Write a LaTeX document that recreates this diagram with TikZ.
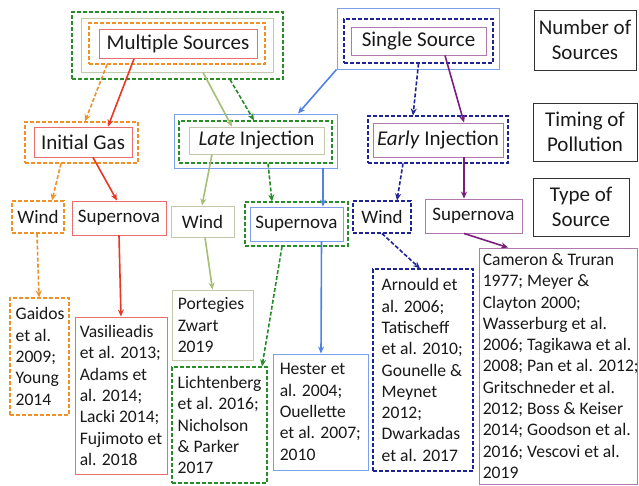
\documentclass[tikz,border=0pt]{standalone}
\usepackage{fontspec}
\setmainfont{Carlito}
\usetikzlibrary{arrows.meta}
\definecolor{cgreen}{RGB}{40,140,40}
\definecolor{ckhaki}{RGB}{195,200,170}
\definecolor{ckhakiA}{RGB}{165,190,120}
\definecolor{corange}{RGB}{240,145,40}
\definecolor{cred}{RGB}{232,55,35}
\definecolor{credbox}{RGB}{235,110,110}
\definecolor{cblue}{RGB}{80,130,230}
\definecolor{cbluebox}{RGB}{125,160,235}
\definecolor{cdblue}{RGB}{30,35,150}
\definecolor{cpurple}{RGB}{120,30,125}
\definecolor{cpurplebox}{RGB}{175,120,175}
\definecolor{ctext}{RGB}{25,25,25}
\tikzset{
  box/.style={draw, rectangle, inner sep=0pt, line width=0.9pt, text=ctext},
  dbox/.style={box, line width=1.1pt, dash pattern=on 4pt off 2pt},
  hfont/.style={font=\fontsize{21}{25}\selectfont},
  tfont/.style={font=\fontsize{19}{23}\selectfont},
  cfont/.style={font=\fontsize{17.6}{21.3}\selectfont, align=left, inner sep=0pt, text=ctext},
  arr/.style={-{Stealth[length=7pt,width=6pt]}, line width=1.6pt},
  darr/.style={arr, dash pattern=on 4pt off 2pt},
}
\begin{document}
\begin{tikzpicture}[x=1pt,y=-1pt]
\useasboundingbox (0,0) rectangle (639,485);
% ---- Multiple Sources
\node[dbox, draw=cgreen, minimum width=211pt, minimum height=67pt] (msG) at (177.5,45.5) {};
\node[box, draw=ckhaki, minimum width=192pt, minimum height=54pt] (msK) at (177,45) {};
\node[dbox, draw=corange, minimum width=176pt, minimum height=41pt] (msO) at (177,43.5) {};
\node[box, draw=credbox, minimum width=158pt, minimum height=29pt, hfont] (msR) at (178,44) {Multiple Sources};
% ---- Single Source
\node[box, draw=cbluebox, minimum width=162pt, minimum height=61pt] (ssB) at (418,38.5) {};
\node[dbox, draw=cdblue, minimum width=149pt, minimum height=44pt] (ssD) at (418.5,41) {};
\node[box, draw=cpurplebox, minimum width=135pt, minimum height=28pt, hfont] (ssP) at (418.5,41) {Single Source};
% ---- Right labels
\node[box, draw=black!80, line width=0.7pt, minimum width=102pt, minimum height=60pt, hfont, align=center] (lNum) at (585,40) {Number of\\Sources};
\node[box, draw=black!80, line width=0.7pt, minimum width=104pt, minimum height=58pt, hfont, align=center] (lTim) at (585,132) {Timing of\\Pollution};
\node[box, draw=black!80, line width=0.7pt, minimum width=96pt, minimum height=58pt, hfont, align=center] (lTyp) at (581,207) {Type of\\Source};
% ---- Initial Gas
\node[dbox, draw=corange, minimum width=113pt, minimum height=41pt] (igO) at (81.5,142.5) {};
\node[box, draw=credbox, minimum width=98pt, minimum height=30pt, hfont] (igR) at (83,142) {Initial Gas};
% ---- Late Injection
\node[box, draw=cbluebox, minimum width=163pt, minimum height=54pt] (liB) at (255.5,141) {};
\node[dbox, draw=cgreen, minimum width=153pt, minimum height=42pt] (liG) at (255.5,142) {};
\node[box, draw=ckhaki, minimum width=135pt, minimum height=27pt, hfont] (liK) at (256.5,140.5) {\textit{Late} Injection};
% ---- Early Injection
\node[dbox, draw=cdblue, minimum width=140pt, minimum height=47pt] (eiD) at (438,139.5) {};
\node[box, draw=cpurplebox, minimum width=130pt, minimum height=34pt, hfont] (eiP) at (438,140) {\textit{Early} Injection};
% ---- Type level
\node[dbox, draw=corange, minimum width=52pt, minimum height=32pt, tfont] (w1) at (38,217) {Wind};
\node[box, draw=credbox, minimum width=94pt, minimum height=34pt, tfont] (s1) at (119,218) {Supernova};
\node[box, draw=ckhaki, minimum width=63pt, minimum height=31pt, tfont] (w2) at (202.5,221.5) {Wind};
\node[dbox, draw=cgreen, minimum width=103pt, minimum height=44pt] (s2G) at (296.5,224) {};
\node[box, draw=cbluebox, minimum width=93pt, minimum height=34pt, tfont] (s2B) at (296.5,224) {Supernova};
\node[dbox, draw=cdblue, minimum width=58pt, minimum height=32pt, tfont] (w3) at (382,217) {Wind};
\node[box, draw=cpurplebox, minimum width=97pt, minimum height=34pt, tfont] (s3) at (473.5,216) {Supernova};
% ---- Citation boxes
\node[dbox, draw=corange, minimum width=59pt, minimum height=117pt] (c1) at (39.5,356.5) {};
\node[box, draw=credbox, minimum width=92pt, minimum height=157pt] (c2) at (121,395.5) {};
\node[box, draw=ckhaki, minimum width=81pt, minimum height=70pt] (c3) at (212.5,325) {};
\node[dbox, draw=cgreen, minimum width=95pt, minimum height=116pt] (c4) at (219.5,425) {};
\node[box, draw=cbluebox, minimum width=95pt, minimum height=116pt] (c5) at (320.5,412) {};
\node[dbox, draw=cdblue, minimum width=100pt, minimum height=202pt] (c6) at (423,370) {};
\node[box, draw=cpurplebox, minimum width=158pt, minimum height=236pt] (c7) at (558,366) {};
\node[cfont, anchor=west] (t1) at ([xshift=6pt]c1.west) {Gaidos\\et al.\\2009;\\Young\\2014};
\node[cfont, anchor=west] (t2) at ([xshift=5pt]c2.west) {Vasilieadis\\et al. 2013;\\Adams et\\al. 2014;\\Lacki 2014;\\Fujimoto et\\al. 2018};
\node[cfont, anchor=west] (t3) at ([xshift=6pt]c3.west) {Portegies\\Zwart\\2019};
\node[cfont, anchor=west] (t4) at ([xshift=6pt]c4.west) {Lichtenberg\\et al. 2016;\\Nicholson\\\& Parker\\2017};
\node[cfont, anchor=west] (t5) at ([xshift=7pt]c5.west) {Hester et\\al. 2004;\\Ouellette\\et al. 2007;\\2010};
\node[cfont, anchor=west] (t6) at ([xshift=9pt]c6.west) {Arnould et\\al. 2006;\\Tatischeff\\et al. 2010;\\Gounelle \&\\Meynet\\2012;\\Dwarkadas\\et al. 2017};
\node[cfont, anchor=west] (t7) at ([xshift=4pt]c7.west) {Cameron \& Truran\\1977; Meyer \&\\Clayton 2000;\\Wasserburg et al.\\2006; Tagikawa et al.\\2008; Pan et al. 2012;\\Gritschneder et al.\\2012; Boss \& Keiser\\2014; Goodson et al.\\2016; Vescovi et al.\\2019};
% ---- Arrows level 1
\draw[darr, corange] ([xshift=-70pt]msO.south) -- ([xshift=3.5pt]igO.north);
\draw[arr, cred] ([xshift=-44pt]msR.south) -- ([xshift=25pt]igR.north);
\draw[arr, ckhakiA] ([xshift=26pt]msK.south) -- ([xshift=-24.5pt]liK.north);
\draw[darr, cgreen] ([xshift=52.5pt]msG.south) -- ([xshift=-1.5pt]liG.north);
\draw[arr, cblue] (ssB.south west) -- ([xshift=42.5pt]liB.north);
\draw[darr, cdblue] (ssD.south) -- ([xshift=-25pt]eiD.north);
\draw[arr, cpurple] ([xshift=26.5pt]ssP.south) -- ([xshift=26pt]eiP.north);
% ---- Arrows level 2
\draw[darr, corange] ([xshift=-20.5pt]igO.south) -- ([xshift=14pt]w1.north);
\draw[arr, cred] ([xshift=10pt]igR.south) -- ([xshift=-2pt]s1.north);
\draw[arr, ckhakiA] ([xshift=-44.5pt]liK.south) -- ([xshift=-0.5pt]w2.north);
\draw[darr, cgreen] ([xshift=12.5pt]liG.south) -- ([xshift=-24.5pt]s2G.north);
\draw[arr, cblue] ([xshift=67.5pt]liB.south) -- ([xshift=26.5pt]s2B.north);
\draw[darr, cdblue] ([xshift=-35pt]eiD.south) -- ([xshift=15pt]w3.north);
\draw[arr, cpurple] ([xshift=26pt]eiP.south) -- ([xshift=-9.5pt]s3.north);
% ---- Arrows level 3
\draw[darr, corange] ([xshift=-1pt]w1.south) -- ([xshift=-0.5pt]c1.north);
\draw[arr, cred] (s1.south) -- (c2.north);
\draw[arr, ckhakiA] ([xshift=2.5pt]w2.south) -- (c3.north);
\draw[darr, cgreen] ([xshift=-14.5pt]s2G.south) -- ([xshift=42.5pt]c4.north);
\draw[arr, cblue] ([xshift=25pt]s2B.south) -- ([xshift=0.5pt]c5.north);
\draw[darr, cdblue] (w3.south) -- ([xshift=-3pt]c6.north);
\draw[arr, cpurple] ([xshift=-9.5pt]s3.south) -- ([xshift=-50pt]c7.north);
\end{tikzpicture}
\end{document}
